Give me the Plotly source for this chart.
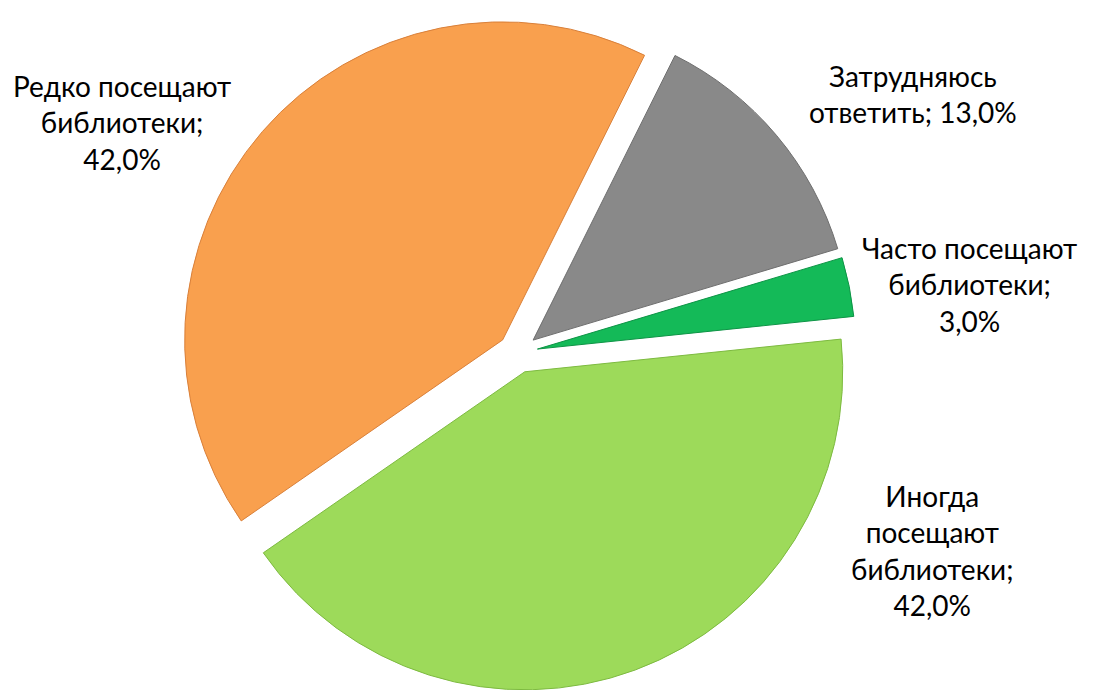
import plotly.graph_objects as go

# Library visits survey, share of respondents
labels = ["Редко посещают библиотеки", "Затрудняюсь ответить",
          "Часто посещают библиотеки", "Иногда посещают библиотеки"]
values = [42.0, 13.0, 3.0, 42.0]
label_text = ["Редко посещают<br>библиотеки;<br>42,0%",
              "Затрудняюсь<br>ответить; 13,0%",
              "Часто посещают<br>библиотеки;<br>3,0%",
              "Иногда<br>посещают<br>библиотеки;<br>42,0%"]

colors = ["#F9A04E", "#898989", "#14BA58", "#9DDA5A"]
edges = ["#D9803A", "#6E6E6E", "#0E9446", "#7DBA40"]

# label anchor points in paper coordinates
label_pos = [(0.104, 0.834), (0.827, 0.875), (0.879, 0.599), (0.845, 0.214)]

fig = go.Figure(
    go.Pie(
        labels=labels,
        values=values,
        sort=False,
        direction="clockwise",
        rotation=235.3,
        pull=[0.063] * 4,
        textinfo="none",
        marker=dict(colors=colors, line=dict(color=edges, width=1)),
        domain=dict(x=[0.157, 0.775], y=[0.01, 0.99]),
        hovertemplate="%{label}: %{value:.1f}%<extra></extra>",
        showlegend=False,
    )
)

for txt, (x, y) in zip(label_text, label_pos):
    fig.add_annotation(
        x=x, y=y, xref="paper", yref="paper",
        text=txt, showarrow=False, align="center",
        xanchor="center", yanchor="middle",
        font=dict(family="Lato", size=28, color="#000000"),
    )

fig.update_layout(
    width=1094, height=690,
    margin=dict(l=0, r=0, t=0, b=0),
    paper_bgcolor="white",
    plot_bgcolor="white",
)

fig.write_html("out.html")
